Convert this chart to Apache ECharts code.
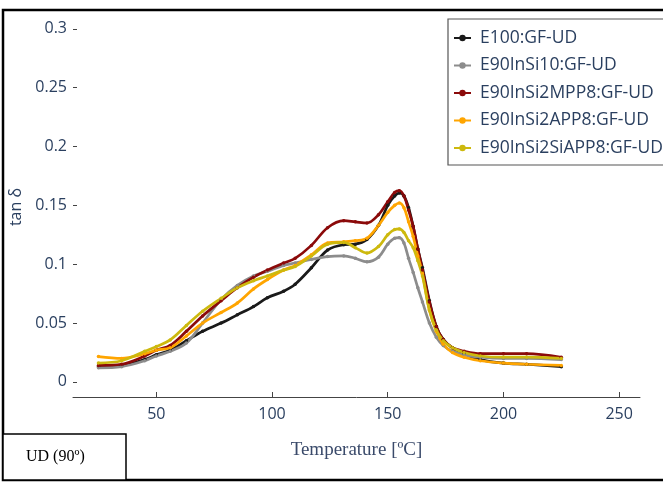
<!DOCTYPE html>
<html>
<head>
<meta charset="utf-8">
<script src="https://cdn.jsdelivr.net/npm/echarts@6/dist/echarts.min.js"></script>
<style>
html,body{margin:0;padding:0;background:#fff;}
#chart{width:663px;height:485px;}
</style>
</head>
<body>
<div id="chart"></div>
<script>
// Temperature grid [°C]
var temps = [25, 35, 45, 50, 56, 63, 70, 78, 85, 92, 98, 105, 110, 117, 124, 131, 136, 141, 146, 150, 153, 155, 157, 159, 161, 163, 165, 168, 171, 174, 178, 183, 190, 200, 210, 225];

var seriesNames = ['E100:GF-UD', 'E90InSi10:GF-UD', 'E90InSi2MPP8:GF-UD', 'E90InSi2APP8:GF-UD', 'E90InSi2SiAPP8:GF-UD'];

var e100 = [0.013, 0.014, 0.019, 0.023, 0.027, 0.035, 0.043, 0.050, 0.057, 0.064, 0.0715, 0.077, 0.083, 0.097, 0.112, 0.1165, 0.117, 0.121, 0.133, 0.150, 0.158, 0.1605, 0.158, 0.148, 0.132, 0.113, 0.097, 0.069, 0.047, 0.036, 0.029, 0.024, 0.019, 0.016, 0.015, 0.013];
var e90InSi10 = [0.012, 0.013, 0.018, 0.022, 0.026, 0.033, 0.050, 0.070, 0.082, 0.090, 0.094, 0.099, 0.101, 0.104, 0.1065, 0.107, 0.105, 0.102, 0.106, 0.117, 0.122, 0.1225, 0.118, 0.105, 0.093, 0.080, 0.068, 0.050, 0.038, 0.031, 0.026, 0.023, 0.021, 0.020, 0.020, 0.019];
var e90MPP8 = [0.014, 0.015, 0.022, 0.027, 0.031, 0.043, 0.056, 0.069, 0.080, 0.089, 0.095, 0.101, 0.105, 0.116, 0.131, 0.137, 0.136, 0.135, 0.142, 0.153, 0.161, 0.1625, 0.158, 0.146, 0.132, 0.113, 0.095, 0.068, 0.047, 0.036, 0.029, 0.026, 0.024, 0.024, 0.024, 0.021];
var e90APP8 = [0.0215, 0.020, 0.024, 0.027, 0.029, 0.039, 0.050, 0.059, 0.067, 0.079, 0.087, 0.095, 0.099, 0.108, 0.118, 0.119, 0.120, 0.122, 0.133, 0.144, 0.150, 0.152, 0.148, 0.136, 0.1235, 0.107, 0.092, 0.061, 0.043, 0.032, 0.025, 0.021, 0.018, 0.016, 0.015, 0.014];
var e90SiAPP8 = [0.016, 0.018, 0.026, 0.030, 0.0357, 0.048, 0.060, 0.071, 0.080, 0.086, 0.090, 0.095, 0.098, 0.107, 0.117, 0.1185, 0.114, 0.1095, 0.115, 0.125, 0.1295, 0.130, 0.127, 0.120, 0.114, 0.103, 0.090, 0.061, 0.044, 0.035, 0.029, 0.025, 0.022, 0.021, 0.021, 0.020];

var xTicks = [50, 100, 150, 200, 250];
var yTicks = [0, 0.05, 0.1, 0.15, 0.2, 0.25, 0.3];

var colors = ['#1a1a1a', '#8c8c8c', '#8b0a0a', '#ffa500', '#cdb90e'];
var allValues = [e100, e90InSi10, e90MPP8, e90APP8, e90SiAPP8];

function pairs(vals) {
  return temps.map(function (t, i) { return [t, vals[i]]; });
}

var txtColor = '#2a3f5f';
var chart = echarts.init(document.getElementById('chart'), null, {renderer: 'canvas'});

var series = seriesNames.map(function (name, i) {
  return {
    name: name,
    type: 'line',
    data: pairs(allValues[i]),
    smooth: 0.35,
    symbol: 'circle',
    symbolSize: 3.5,
    showSymbol: true,
    lineStyle: {width: 2.7, color: colors[i]},
    itemStyle: {color: colors[i]},
    emphasis: {disabled: true},
    animation: false
  };
});

chart.setOption({
  animation: false,
  textStyle: {fontFamily: 'Open Sans'},
  grid: {left: 73, right: 23, top: 17, bottom: 88, containLabel: false},
  xAxis: {
    type: 'value',
    min: 14,
    max: 259,
    name: 'Temperature [ºC]',
    nameLocation: 'middle',
    nameGap: 44,
    nameTextStyle: {fontFamily: 'Liberation Serif', fontSize: 19, color: '#3a4a6a'},
    axisLine: {show: true, onZero: false, lineStyle: {color: '#444', width: 1}},
    axisTick: {show: true, inside: true, length: 5, customValues: xTicks, lineStyle: {color: '#444'}},
    axisLabel: {customValues: xTicks, color: txtColor, fontSize: 16, margin: 9},
    splitLine: {show: false}
  },
  yAxis: {
    type: 'value',
    min: -0.0128,
    max: 0.31,
    name: 'tan δ',
    nameLocation: 'middle',
    nameGap: 49,
    nameRotate: 90,
    nameTextStyle: {fontSize: 16, color: txtColor},
    axisLine: {show: false},
    axisTick: {show: true, inside: true, length: 4, customValues: yTicks, lineStyle: {color: '#444'}},
    axisLabel: {customValues: yTicks, color: txtColor, fontSize: 16, margin: 6},
    splitLine: {show: false}
  },
  legend: {
    data: seriesNames,
    orient: 'vertical',
    left: 448,
    top: 19,
    padding: [10, 60, 8, 5],
    itemGap: 9.5,
    itemWidth: 17,
    itemHeight: 8,
    borderColor: '#555',
    borderWidth: 1.2,
    textStyle: {fontSize: 17.5, color: txtColor, padding: [0, 0, 0, 4]}
  },
  graphic: [
    {
      type: 'rect',
      z: 100,
      shape: {x: 3, y: 10, width: 700, height: 470},
      style: {fill: 'none', stroke: '#000', lineWidth: 2.5}
    },
    {
      type: 'rect',
      z: 101,
      shape: {x: 3, y: 434, width: 123, height: 46},
      style: {fill: '#fff', stroke: '#000', lineWidth: 1.5}
    },
    {
      type: 'text',
      z: 102,
      left: 26,
      top: 449,
      style: {text: 'UD (90º)', fontFamily: 'Liberation Serif', fontSize: 16, fill: '#000'}
    }
  ],
  series: series
});
</script>
</body>
</html>
